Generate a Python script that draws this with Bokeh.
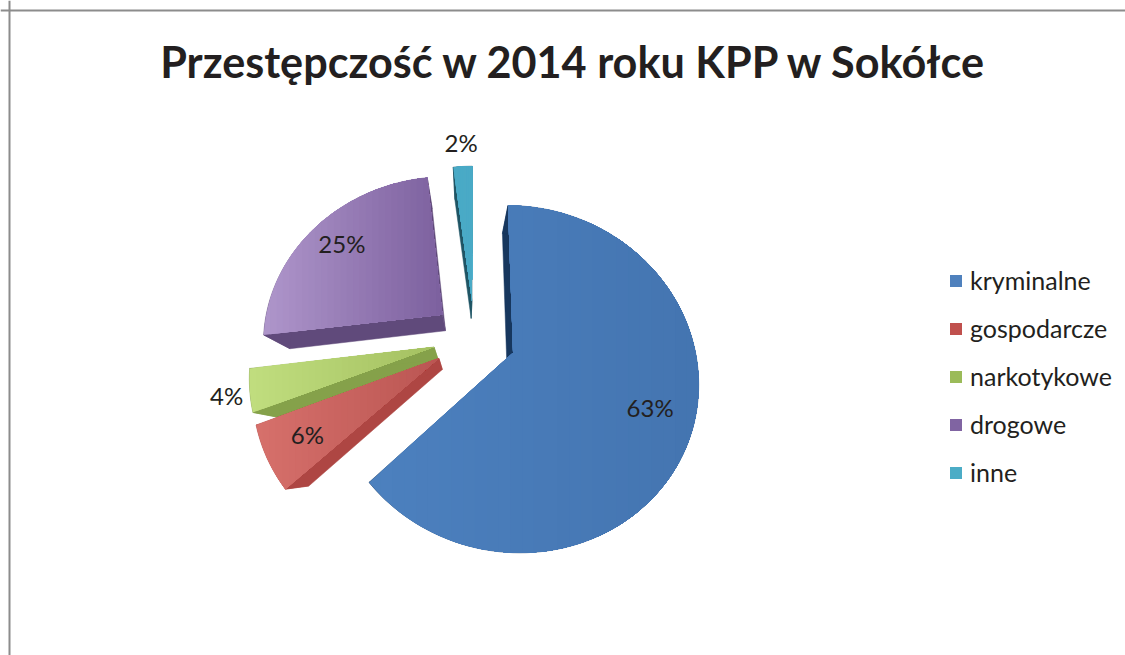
import math
from bokeh.plotting import figure
from bokeh.models import Range1d, Span, Legend, LegendItem
from bokeh.core.properties import value
from bokeh.embed import file_html
from bokeh.resources import INLINE

# ---- data ----
TITLE = "Przestępczość w 2014 roku KPP w Sokółce"
categories = ["kryminalne", "gospodarcze", "narkotykowe", "drogowe", "inne"]
shares = [63, 6, 4, 25, 2]

# ---- style ----
legend_colors = ["#4F81BD", "#C0504D", "#9BBB59", "#8064A2", "#4BACC6"]
face_left = ["#4C80BE", "#D6706B", "#C0DD7E", "#AE95CA", "#4AAAC6"]
face_right = ["#4475B1", "#BB5653", "#A5C162", "#7D619F", "#4AAAC6"]
wall_colors = ["#17375E", "#AE4643", "#85A14A", "#604A7B", "#1F5565"]
label_radius = [1.0, 1.01, 1.35, 1.02, 1.44]
TEXT = "#231F20"
FONT = "Lato"

# ---- pie geometry (window pixels) ----
CX, CY = 474, 337
R, H, K = 180, 165, 0.15
EXPLODE = 0.23
VX, VY, SHRINK_X, SHRINK_Y = 465, 460, 0.13, 0.11


def project(dx, dy):
    s = 1 / (1 + K * dy)
    return CX + dx * R * s, CY - dy * H * s


def lower(pt):
    return pt[0] + SHRINK_X * (VX - pt[0]), pt[1] + SHRINK_Y * (VY - pt[1])


def clip_right(poly, t):
    out = []
    for i, a in enumerate(poly):
        b = poly[(i + 1) % len(poly)]
        if a[0] >= t:
            out.append(a)
        if (a[0] >= t) != (b[0] >= t):
            f = (t - a[0]) / (b[0] - a[0])
            out.append((t, a[1] + f * (b[1] - a[1])))
    return out


def mix(c1, c2, f):
    a = [int(c1[i:i + 2], 16) for i in (1, 3, 5)]
    b = [int(c2[i:i + 2], 16) for i in (1, 3, 5)]
    return "#%02x%02x%02x" % tuple(round(u + (v - u) * f) for u, v in zip(a, b))


p = figure(width=1125, height=655, output_backend="svg", toolbar_location=None,
           x_range=Range1d(0, 1125), y_range=Range1d(655, 0),
           x_axis_type=None, y_axis_type=None, min_border=0)
p.grid.visible = False
p.outline_line_color = None
p.background_fill_color = "white"

p.add_layout(Span(location=9, dimension="height", line_color="#8C8C8C", line_width=2))
p.add_layout(Span(location=10, dimension="width", line_color="#8C8C8C", line_width=2))

total = sum(shares)
start = 0.0
slices = []
for i, v in enumerate(shares):
    a0 = start
    a1 = start + v / total * 2 * math.pi
    start = a1
    mid = (a0 + a1) / 2
    ox, oy = EXPLODE * math.sin(mid), EXPLODE * math.cos(mid)
    n = max(3, int((a1 - a0) / 0.03))
    arc = []
    for j in range(n + 1):
        a = a0 + (a1 - a0) * j / n
        arc.append(project(ox + math.sin(a), oy + math.cos(a)))
    apex = project(ox, oy)
    slices.append((i, mid, arc, apex))

for i, mid, arc, apex in reversed(slices):
    low_arc = [lower(q) for q in arc]
    low_apex = lower(apex)
    walls = [
        [apex, arc[0], low_arc[0], low_apex],
        [apex, arc[-1], low_arc[-1], low_apex],
        arc + low_arc[::-1],
    ]
    p.patches([[q[0] for q in w] for w in walls], [[q[1] for q in w] for w in walls],
              fill_color=wall_colors[i], line_color=wall_colors[i], line_width=0.5)
    face = [apex] + arc
    xmin = min(q[0] for q in face)
    xmax = max(q[0] for q in face)
    bands = 28
    for b in range(bands):
        t = xmin + (xmax - xmin) * b / bands
        poly = clip_right(face, t) if b else face
        if len(poly) < 3:
            continue
        c = mix(face_left[i], face_right[i], b / (bands - 1))
        p.patch([q[0] for q in poly], [q[1] for q in poly], fill_color=c, line_color=None)

# percentage labels placed along each slice's mid direction
lx, ly, lt = [], [], []
for (i, mid, _, _), r in zip(slices, label_radius):
    x, y = project(r * math.sin(mid), r * math.cos(mid))
    lx.append(x); ly.append(y); lt.append(f"{shares[i]}%")
p.text(lx, ly, text=lt, text_font=value(FONT), text_font_size="24px", text_color=TEXT,
       text_align="center", text_baseline="middle")

p.text([574], [60], text=[TITLE], text_font=value(FONT), text_font_style="bold",
       text_font_size="43.2px", text_color=TEXT, text_align="center", text_baseline="middle")

items = []
nan = float("nan")
for name, col in zip(categories, legend_colors):
    r = p.quad(left=[nan], right=[nan], top=[nan], bottom=[nan], fill_color=col, line_color=None)
    items.append(LegendItem(label=name, renderers=[r]))
legend = Legend(items=items, location=(948, 168), orientation="vertical",
                background_fill_alpha=0, border_line_color=None, margin=0, padding=0,
                glyph_width=15, glyph_height=15, label_standoff=7, spacing=18,
                label_text_font=FONT, label_text_font_size="25px", label_text_color=TEXT,
                label_height=30)
p.add_layout(legend, "center")

open("out.html", "w").write(file_html(p, INLINE))
